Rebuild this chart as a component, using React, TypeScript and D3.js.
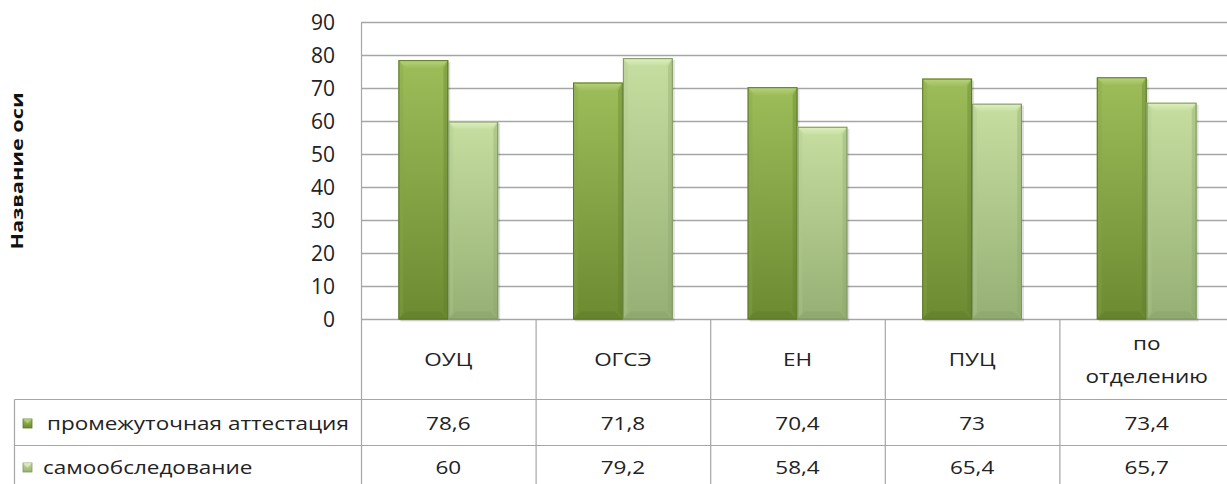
import React from "react";
import * as d3 from "d3";

const categories = ["ОУЦ", "ОГСЭ", "ЕН", "ПУЦ", "по отделению"];
const seriesNames = ["промежуточная аттестация", "самообследование"];
const attestation = [78.6, 71.8, 70.4, 73, 73.4];
const selfCheck = [60, 79.2, 58.4, 65.4, 65.7];
const attestationLabels = ["78,6", "71,8", "70,4", "73", "73,4"];
const selfCheckLabels = ["60", "79,2", "58,4", "65,4", "65,7"];
const yTicks = [0, 10, 20, 30, 40, 50, 60, 70, 80, 90];
const yTitle = "Название оси";

const W = 1227;
const H = 484;
const FONT = "'Open Sans', 'DejaVu Sans', sans-serif";

const plotLeft = 361;
const plotRight = 1234;
const plotTop = 22.5;
const plotBottom = 319.5;
const row1Top = 399.5;
const row2Top = 445.5;
const tableLeft = 14.5;
const SX = 1.25;

const palettes = [
  { id: "dark", top: "#9dbd5a", bottom: "#6c8a31", bevelTop: "#b9d37e", edge: "#5d7829", side: "#86a545", bot: "#5f7b2b" },
  { id: "light", top: "#c6dea0", bottom: "#96af74", bevelTop: "#e0f0c2", edge: "#7f9662", side: "#b0c88e", bot: "#8aa26a" },
];

function SText({ x, y, anchor = "middle", size = 18, children }: any) {
  return (
    <text
      transform={`translate(${x},${y}) scale(${SX},1)`}
      dy="0.36em"
      textAnchor={anchor}
      fontFamily={FONT}
      fontSize={size}
      fill="#222"
    >
      {children}
    </text>
  );
}

function Bar({ x, y, w, h, p }: any) {
  const b = Math.min(8, h / 2);
  return (
    <g>
      <rect x={x + 2} y={y + 2} width={w} height={h} fill="#000" opacity={0.12} />
      <rect x={x} y={y} width={w} height={h} fill={`url(#g-${p.id})`} />
      <polygon
        points={`${x},${y} ${x + w},${y} ${x + w - b},${y + b} ${x + b},${y + b}`}
        fill={`url(#gt-${p.id})`}
      />
      <polygon
        points={`${x},${y} ${x + b * 0.6},${y + b} ${x + b * 0.6},${y + h - b} ${x},${y + h}`}
        fill={p.side}
        opacity={0.35}
      />
      <polygon
        points={`${x + w},${y} ${x + w - b * 0.6},${y + b} ${x + w - b * 0.6},${y + h - b} ${x + w},${y + h}`}
        fill={p.bot}
        opacity={0.35}
      />
      <polygon
        points={`${x},${y + h} ${x + w},${y + h} ${x + w - b},${y + h - b} ${x + b},${y + h - b}`}
        fill={p.bot}
        opacity={0.45}
      />
      <rect x={x + 0.5} y={y + 0.5} width={w - 1} height={h - 1} fill="none" stroke={p.edge} strokeWidth={1} />
    </g>
  );
}

export default function App() {
  const x = d3.scaleBand<string>().domain(categories).range([plotLeft, plotRight]).padding(0);
  const y = d3.scaleLinear().domain([0, 90]).range([plotBottom, plotTop]);
  const bw = x.bandwidth();
  const barW = bw / 3.5;
  const series = [attestation, selfCheck];
  const labels = [attestationLabels, selfCheckLabels];
  const grid = "#a6a6a6";
  const rowCenters = [424, 468];

  return (
    <div style={{ position: "fixed", left: 0, top: 0 }}>
      <svg width={W} height={H} style={{ display: "block", background: "#fff" }}>
        <defs>
          {palettes.map((p) => (
            <React.Fragment key={p.id}>
              <linearGradient id={`g-${p.id}`} x1="0" y1="0" x2="0" y2="1">
                <stop offset="0" stopColor={p.top} />
                <stop offset="1" stopColor={p.bottom} />
              </linearGradient>
              <linearGradient id={`gt-${p.id}`} x1="0" y1="0" x2="0" y2="1">
                <stop offset="0" stopColor={p.bevelTop} />
                <stop offset="1" stopColor={p.top} />
              </linearGradient>
            </React.Fragment>
          ))}
        </defs>

        {/* gridlines */}
        {yTicks.map((t) => (
          <line key={t} x1={plotLeft} x2={plotRight} y1={y(t)} y2={y(t)} stroke={grid} strokeWidth={1.5} />
        ))}
        <line x1={plotLeft + 0.5} x2={plotLeft + 0.5} y1={plotTop} y2={H} stroke={grid} strokeWidth={1.2} />

        {/* tick labels */}
        {yTicks.map((t) => (
          <text key={t} x={335} y={y(t)} dy="0.36em" textAnchor="end" fontFamily={FONT} fontSize={21} fill="#222">
            {t}
          </text>
        ))}

        {/* axis title */}
        <text
          transform={`translate(23,${171}) rotate(-90)`}
          textAnchor="middle"
          fontFamily={FONT}
          fontWeight="bold"
          fontSize={15.5}
          textLength={157}
          lengthAdjust="spacingAndGlyphs"
          fill="#111"
        >
          {yTitle}
        </text>

        {/* bars */}
        {categories.map((c, i) =>
          series.map((s, si) => {
            const bx = (x(c) as number) + barW * 0.75 + si * barW;
            const by = y(s[i]);
            return <Bar key={c + si} x={bx} y={by} w={barW} h={plotBottom - by} p={palettes[si]} />;
          })
        )}

        {/* table lines */}
        {categories.map((c, i) =>
          i === 0 ? null : (
            <line key={c} x1={(x(c) as number) + 0.5} x2={(x(c) as number) + 0.5} y1={plotBottom} y2={H} stroke={grid} strokeWidth={1.2} />
          )
        )}
        <line x1={tableLeft} x2={tableLeft} y1={row1Top} y2={H} stroke={grid} strokeWidth={1.2} />
        <line x1={tableLeft} x2={plotRight} y1={row1Top} y2={row1Top} stroke={grid} strokeWidth={1.2} />
        <line x1={tableLeft} x2={plotRight} y1={row2Top} y2={row2Top} stroke={grid} strokeWidth={1.2} />

        {/* category labels */}
        {categories.map((c) => {
          const cx = (x(c) as number) + bw / 2;
          const words = c === "по отделению" ? ["по", "отделению"] : [c];
          const cy = 360;
          return (
            <g key={c}>
              {words.map((wd, k) => (
                <SText key={k} x={cx} y={cy + (k - (words.length - 1) / 2) * 33}>
                  {wd}
                </SText>
              ))}
            </g>
          );
        })}

        {/* legend keys & values */}
        {seriesNames.map((n, si) => {
          const cy = rowCenters[si];
          const p = palettes[si];
          return (
            <g key={n}>
              <rect x={23} y={cy - 5} width={9} height={9} fill={`url(#g-${p.id})`} stroke={p.edge} strokeWidth={0.8} />
              <polygon points={`${23},${cy - 5} ${32},${cy - 5} ${27.5},${cy - 0.5}`} fill={p.bevelTop} opacity={0.8} />
              <SText x={si === 0 ? 47 : 43} y={cy} anchor="start">
                {n}
              </SText>
              {categories.map((c, i) => (
                <SText key={c} x={(x(c) as number) + bw / 2} y={cy}>
                  {labels[si][i]}
                </SText>
              ))}
            </g>
          );
        })}
      </svg>
    </div>
  );
}
